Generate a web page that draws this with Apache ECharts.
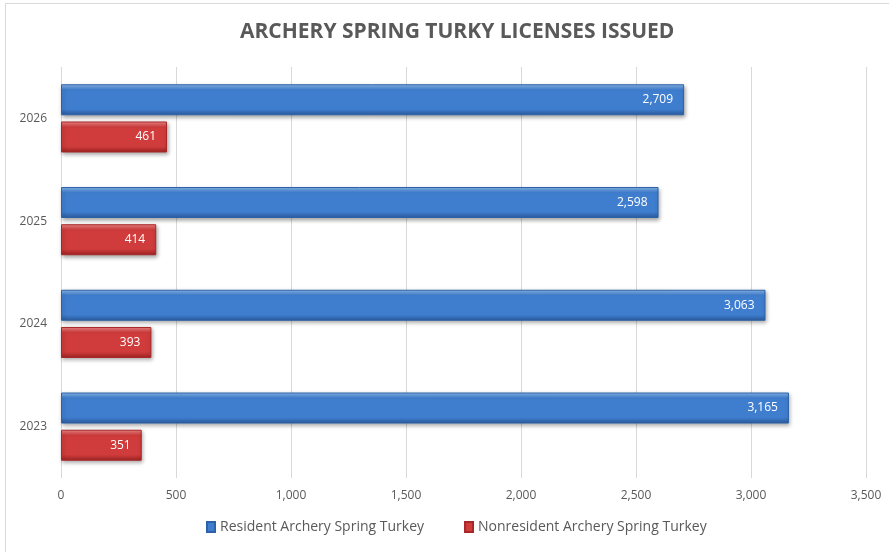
<!DOCTYPE html>
<html>
<head>
<meta charset="utf-8">
<script src="https://cdn.jsdelivr.net/npm/echarts@6/dist/echarts.min.js"></script>
<style>
  html, body { margin: 0; padding: 0; background: #fff; }
  #frame { position: absolute; left: 5px; top: 3px; width: 900px; height: 560px; border: 1px solid #d9d9d9; box-sizing: border-box; }
  #chart { width: 889px; height: 552px; position: absolute; left: 0; top: 0; }
</style>
</head>
<body>
<div id="frame"></div>
<div id="chart"></div>
<script>
const years = ['2023', '2024', '2025', '2026']
const resident = [3165, 3063, 2598, 2709]
const nonresident = [351, 393, 414, 461]
const xTicks = [0, 500, 1000, 1500, 2000, 2500, 3000, 3500]

const chart = echarts.init(document.getElementById('chart'))
const font = '"Open Sans", "Noto Sans", sans-serif'
const textColor = '#595959'

// bevel look: light top edge, flat middle, dark bottom edge
const grad = (top, mid, bot) => new echarts.graphic.LinearGradient(0, 0, 0, 1, [
  { offset: 0, color: top },
  { offset: 0.18, color: mid },
  { offset: 0.8, color: mid },
  { offset: 1, color: bot },
])

const barLabel = {
  show: true,
  position: 'insideRight',
  distance: 11,
  color: '#fff',
  fontFamily: font,
  fontSize: 12,
  formatter: (p) => p.value.toLocaleString('en-US'),
}

const shadow = {
  shadowColor: 'rgba(0,0,0,0.35)',
  shadowBlur: 4,
  shadowOffsetX: 1,
  shadowOffsetY: 2,
}

chart.setOption({
  animation: false,
  title: {
    text: 'ARCHERY SPRING TURKY LICENSES ISSUED',
    left: 235,
    top: 17,
    textStyle: { color: textColor, fontFamily: font, fontSize: 21, fontWeight: 'bold' },
  },
  grid: { left: 61, right: 23, top: 67, bottom: 74 },
  legend: {
    bottom: 13,
    left: 201,
    itemWidth: 8,
    itemHeight: 10,
    itemGap: 40,
    icon: 'rect',
    textStyle: { color: textColor, fontFamily: font, fontSize: 14 },
    data: ['Resident Archery Spring Turkey', 'Nonresident Archery Spring Turkey'],
  },
  xAxis: {
    type: 'value',
    min: xTicks[0],
    max: xTicks[xTicks.length - 1],
    interval: 500,
    axisLine: { show: false },
    axisTick: { show: false },
    axisLabel: {
      color: textColor,
      fontFamily: font,
      fontSize: 12,
      margin: 12,
      formatter: (v) => v.toLocaleString('en-US'),
    },
    splitLine: { lineStyle: { color: '#d9d9d9' } },
  },
  yAxis: {
    type: 'category',
    data: years,
    axisLine: { show: false },
    axisTick: { show: false },
    axisLabel: { color: textColor, fontFamily: font, fontSize: 12, margin: 14 },
  },
  series: [
    {
      name: 'Resident Archery Spring Turkey',
      type: 'bar',
      data: resident,
      barWidth: 31,
      barGap: '20%',
      itemStyle: Object.assign({
        color: grad('#8cbcf0', '#3f7ecf', '#2a5a9c'),
        borderColor: '#2d62a8',
        borderWidth: 1,
      }, shadow),
      label: barLabel,
    },
    {
      name: 'Nonresident Archery Spring Turkey',
      type: 'bar',
      data: nonresident,
      barWidth: 31,
      itemStyle: Object.assign({
        color: grad('#f38a8a', '#d03c3c', '#9e2222'),
        borderColor: '#a82828',
        borderWidth: 1,
      }, shadow),
      label: barLabel,
    },
  ],
  color: ['#2e6fc4', '#c0392b'],
})
</script>
</body>
</html>
